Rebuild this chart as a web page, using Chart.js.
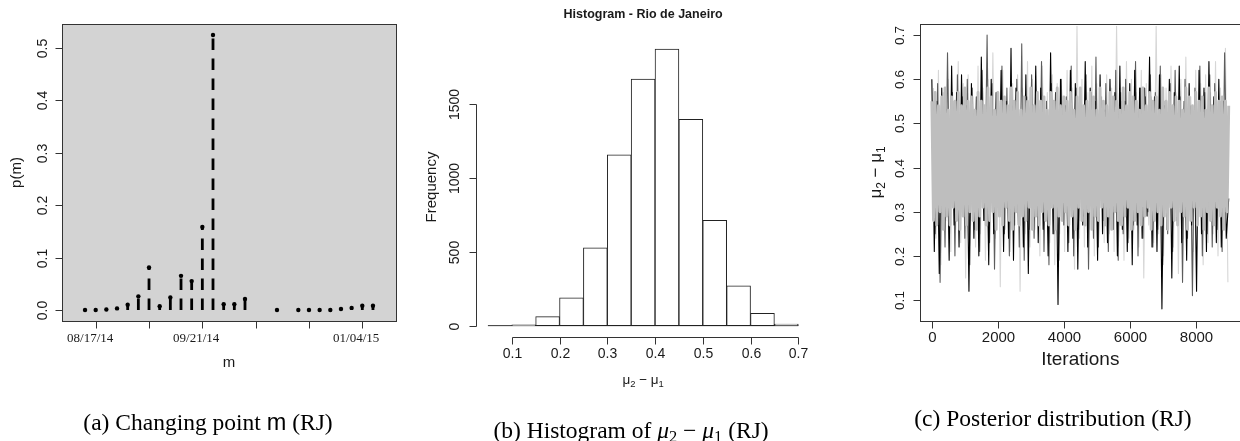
<!DOCTYPE html>
<html>
<head>
<meta charset="utf-8">
<script src="https://cdn.jsdelivr.net/npm/chart.js@4.4.1/dist/chart.umd.min.js"></script>
<style>
  html, body { margin: 0; padding: 0; overflow: hidden; background: #fff; }
  body { position: relative; width: 1240px; height: 441px; }
  canvas { position: absolute; left: 0; top: 0; }
  .cap {
    position: absolute;
    font-family: "Liberation Serif", "Times New Roman", serif;
    font-size: 23.5px;
    color: #000;
    white-space: nowrap;
    transform: translate(-50%, -50%);
  }
  .cap sub { font-size: 0.7em; vertical-align: -0.25em; line-height: 0; }
</style>
</head>
<body>
<canvas id="changeChart" width="1250" height="441"></canvas>
<canvas id="histChart" width="1250" height="441"></canvas>
<canvas id="traceChart" width="1250" height="441"></canvas>

<div class="cap" style="left:208px; top:422px;">(a) Changing point <span style="font-family:'Liberation Sans', Arial, sans-serif;">m</span> (RJ)</div>
<div class="cap" style="left:631px; top:430px;">(b) Histogram of <i>μ</i><sub>2</sub> − <i>μ</i><sub>1</sub> (RJ)</div>
<div class="cap" style="left:1053px; top:418px;">(c) Posterior distribution (RJ)</div>

<script>
// (a) posterior of the change point m
const weekIndex = [1, 2, 3, 4, 5, 6, 7, 8, 9, 10, 11, 12, 13, 14, 15, 16, 19, 21, 22, 23, 24, 25, 26, 27, 28];
const changeProb = [0, 0, 0.001, 0.003, 0.010, 0.026, 0.081, 0.007, 0.024, 0.065, 0.055, 0.158, 0.524, 0.011, 0.011, 0.021,
  0, 0, 0, 0, 0, 0.002, 0.004, 0.008, 0.008];
const weekTicks = [2, 7, 12, 17, 22, 27];
const weekTickLabels = ["08/17/14", "", "09/21/14", "", "", "01/04/15"];
const probTicks = [0, 0.1, 0.2, 0.3, 0.4, 0.5];

// (b) histogram of mu2 - mu1
const binEdges = [0.05, 0.10, 0.15, 0.20, 0.25, 0.30, 0.35, 0.40, 0.45, 0.50, 0.55, 0.60, 0.65, 0.70];
const binCounts = [0, 5, 61, 188, 528, 1158, 1670, 1874, 1398, 714, 270, 84, 11];
const diffTicks = [0.1, 0.2, 0.3, 0.4, 0.5, 0.6, 0.7];
const freqTicks = [0, 500, 1000, 1500];

// (c) trace of mu2 - mu1 (thinned)
const bandStep = 50;
const traceBand = [
  0.55, 0.28, 0.57, 0.27, 0.54, 0.30, 0.56, 0.26, 0.58, 0.29,
  0.53, 0.27, 0.56, 0.31, 0.55, 0.28, 0.57, 0.26, 0.54, 0.29,
  0.58, 0.27, 0.55, 0.30, 0.56, 0.28, 0.53, 0.26, 0.57, 0.29,
  0.55, 0.31, 0.54, 0.27, 0.58, 0.28, 0.56, 0.30, 0.53, 0.26,
  0.57, 0.29, 0.55, 0.27, 0.56, 0.31, 0.54, 0.28, 0.58, 0.26,
  0.55, 0.30, 0.57, 0.27, 0.53, 0.29, 0.56, 0.28, 0.55, 0.31,
  0.58, 0.26, 0.54, 0.29, 0.57, 0.27, 0.55, 0.30, 0.56, 0.28,
  0.53, 0.27, 0.57, 0.31, 0.55, 0.26, 0.58, 0.29, 0.54, 0.28,
  0.56, 0.30, 0.55, 0.27, 0.57, 0.29, 0.53, 0.26, 0.56, 0.31,
  0.58, 0.28, 0.54, 0.27, 0.55, 0.30, 0.57, 0.26, 0.56, 0.29,
  0.53, 0.28, 0.58, 0.31, 0.55, 0.27, 0.54, 0.29, 0.57, 0.26,
  0.56, 0.30, 0.55, 0.28, 0.53, 0.27, 0.58, 0.29, 0.54, 0.31,
  0.57, 0.26, 0.56, 0.28, 0.55, 0.30, 0.53, 0.27, 0.58, 0.29,
  0.54, 0.31, 0.57, 0.26, 0.55, 0.28, 0.56, 0.30, 0.53, 0.27,
  0.58, 0.29, 0.55, 0.26, 0.57, 0.31, 0.54, 0.28, 0.56, 0.27,
  0.55, 0.30, 0.53, 0.29, 0.58, 0.26, 0.56, 0.28, 0.54, 0.31,
  0.57, 0.27, 0.55, 0.29, 0.56, 0.26, 0.53, 0.30, 0.58, 0.28,
  0.54, 0.27, 0.57, 0.31, 0.55, 0.29, 0.56, 0.26, 0.55, 0.30,
  0.54
];
const chainStep = 75;
const traceBlack = [
  0.60, 0.21, 0.55, 0.16, 0.58, 0.26, 0.53, 0.19, 0.63, 0.27,
  0.57, 0.22, 0.61, 0.29, 0.54, 0.12, 0.59, 0.24, 0.56, 0.20,
  0.65, 0.28, 0.52, 0.18, 0.60, 0.25, 0.57, 0.31, 0.62, 0.21,
  0.55, 0.24, 0.67, 0.19, 0.58, 0.27, 0.53, 0.22, 0.61, 0.16,
  0.56, 0.29, 0.63, 0.23, 0.58, 0.26, 0.51, 0.20, 0.66, 0.25,
  0.57, 0.09, 0.60, 0.28, 0.54, 0.21, 0.62, 0.24, 0.59, 0.17,
  0.56, 0.27, 0.64, 0.22, 0.58, 0.30, 0.55, 0.19, 0.61, 0.25,
  0.53, 0.23, 0.60, 0.28, 0.57, 0.20, 0.63, 0.26, 0.55, 0.21,
  0.59, 0.18, 0.62, 0.27, 0.58, 0.24, 0.58, 0.29, 0.65, 0.22,
  0.56, 0.21, 0.61, 0.08, 0.54, 0.26, 0.60, 0.15, 0.57, 0.28,
  0.63, 0.23, 0.55, 0.19, 0.59, 0.27, 0.52, 0.12, 0.62, 0.25,
  0.58, 0.21, 0.64, 0.28, 0.56, 0.23, 0.60, 0.22, 0.55, 0.24,
  0.33
];
const traceDark = [
  0.55, 0.25, 0.59, 0.14, 0.54, 0.22, 0.66, 0.27, 0.57, 0.20,
  0.61, 0.29, 0.56, 0.24, 0.60, 0.18, 0.58, 0.26, 0.53, 0.21,
  0.62, 0.28, 0.70, 0.23, 0.59, 0.17, 0.55, 0.30, 0.63, 0.25,
  0.58, 0.20, 0.54, 0.27, 0.60, 0.22, 0.68, 0.19, 0.56, 0.26,
  0.61, 0.24, 0.57, 0.28, 0.64, 0.21, 0.55, 0.18, 0.59, 0.25,
  0.52, 0.19, 0.60, 0.27, 0.56, 0.23, 0.63, 0.20, 0.58, 0.26,
  0.54, 0.29, 0.61, 0.17, 0.57, 0.24, 0.65, 0.22, 0.56, 0.28,
  0.59, 0.21, 0.53, 0.26, 0.62, 0.19, 0.57, 0.25, 0.60, 0.23,
  0.55, 0.27, 0.64, 0.20, 0.58, 0.24, 0.56, 0.30, 0.61, 0.22,
  0.57, 0.26, 0.63, 0.18, 0.55, 0.25, 0.59, 0.21, 0.62, 0.28,
  0.56, 0.14, 0.60, 0.24, 0.54, 0.11, 0.58, 0.27, 0.63, 0.20,
  0.57, 0.25, 0.61, 0.22, 0.59, 0.26, 0.55, 0.21, 0.66, 0.35
];
const traceLight = [
  0.58, 0.24, 0.62, 0.18, 0.57, 0.28, 0.60, 0.21, 0.55, 0.26,
  0.64, 0.23, 0.59, 0.15, 0.61, 0.27, 0.56, 0.22, 0.63, 0.25,
  0.58, 0.19, 0.60, 0.28, 0.66, 0.24, 0.57, 0.13, 0.62, 0.26,
  0.55, 0.21, 0.59, 0.27, 0.61, 0.12, 0.58, 0.25, 0.64, 0.22,
  0.60, 0.26, 0.56, 0.20, 0.63, 0.28, 0.57, 0.23, 0.61, 0.18,
  0.59, 0.25, 0.55, 0.21, 0.62, 0.27, 0.58, 0.17, 0.72, 0.24,
  0.60, 0.22, 0.57, 0.26, 0.63, 0.20, 0.59, 0.28, 0.56, 0.23,
  0.61, 0.25, 0.58, 0.21, 0.72, 0.27, 0.55, 0.19, 0.64, 0.24,
  0.60, 0.26, 0.57, 0.22, 0.62, 0.15, 0.59, 0.27, 0.56, 0.23,
  0.72, 0.25, 0.61, 0.20, 0.58, 0.28, 0.63, 0.22, 0.57, 0.16,
  0.60, 0.24, 0.65, 0.26, 0.56, 0.21, 0.62, 0.27, 0.59, 0.18,
  0.61, 0.23, 0.57, 0.25, 0.64, 0.20, 0.58, 0.26, 0.67, 0.14
];
const iterTicks = [0, 2000, 4000, 6000, 8000];
const traceTicks = [0.1, 0.2, 0.3, 0.4, 0.5, 0.6, 0.7];

const INK = "#1a1a1a";
const SANS = '"Liberation Sans", Arial, sans-serif';
const SERIF = '"Liberation Serif", "Times New Roman", serif';

function drawLabel(ctx, text, x, y, font, rotated) {
  ctx.save();
  ctx.translate(x, y);
  if (rotated) ctx.rotate(-Math.PI / 2);
  ctx.font = font;
  ctx.fillStyle = INK;
  ctx.textAlign = "center";
  ctx.textBaseline = "middle";
  ctx.fillText(text, 0, 0);
  ctx.restore();
}

// "mu2 - mu1" with small subscripts
function drawMuDiff(ctx, x, y, size, rotated) {
  const parts = [["μ", 1, 0], ["2", 0.7, 0.25], [" − μ", 1, 0], ["1", 0.7, 0.25]];
  ctx.save();
  ctx.translate(x, y);
  if (rotated) ctx.rotate(-Math.PI / 2);
  ctx.fillStyle = INK;
  ctx.textBaseline = "alphabetic";
  let total = 0;
  parts.forEach(([t, s]) => {
    ctx.font = `${size * s}px ${SANS}`;
    total += ctx.measureText(t).width;
  });
  let cx = -total / 2;
  parts.forEach(([t, s, drop]) => {
    ctx.font = `${size * s}px ${SANS}`;
    ctx.fillText(t, cx, size * 0.36 + size * drop);
    cx += ctx.measureText(t).width;
  });
  ctx.restore();
}

function drawXTicks(chart, values, labels, font, dy, shift) {
  const { ctx, chartArea } = chart;
  const sx = chart.scales.x;
  const base = Math.round(chartArea.bottom) + 0.5;
  ctx.save();
  ctx.strokeStyle = "#333";
  ctx.lineWidth = 1;
  values.forEach((v, i) => {
    const px = Math.round(sx.getPixelForValue(v)) + 0.5;
    ctx.beginPath();
    ctx.moveTo(px, base);
    ctx.lineTo(px, base + 7);
    ctx.stroke();
    if (labels[i]) drawLabel(ctx, labels[i], px + shift, chartArea.bottom + dy, font, false);
  });
  ctx.restore();
}

function drawYTicks(chart, values, labels, font, dx) {
  const { ctx, chartArea } = chart;
  const sy = chart.scales.y;
  const base = Math.round(chartArea.left) + 0.5;
  ctx.save();
  ctx.strokeStyle = "#333";
  ctx.lineWidth = 1;
  values.forEach((v, i) => {
    const py = Math.round(sy.getPixelForValue(v)) + 0.5;
    ctx.beginPath();
    ctx.moveTo(base, py);
    ctx.lineTo(base - 7, py);
    ctx.stroke();
    drawLabel(ctx, labels[i], chartArea.left - dx, py, font, true);
  });
  ctx.restore();
}

function drawBox(chart) {
  const { ctx, chartArea } = chart;
  const l = Math.round(chartArea.left) + 0.5, t = Math.round(chartArea.top) + 0.5;
  const r = Math.round(chartArea.right) + 0.5, b = Math.round(chartArea.bottom) + 0.5;
  ctx.save();
  ctx.strokeStyle = "#333";
  ctx.lineWidth = 1;
  ctx.strokeRect(l, t, r - l, b - t);
  ctx.restore();
}

function baseOptions(padding, xRange, yRange) {
  return {
    responsive: false,
    animation: false,
    events: [],
    layout: { padding },
    plugins: { legend: { display: false }, tooltip: { enabled: false } },
    scales: {
      x: { type: "linear", display: false, min: xRange[0], max: xRange[1], offset: false },
      y: { type: "linear", display: false, min: yRange[0], max: yRange[1] },
    },
  };
}

// ---------- (a) ----------
const stemPoints = [];
weekIndex.forEach((w, i) => {
  stemPoints.push({ x: w, y: 0 }, { x: w, y: changeProb[i] }, { x: w, y: null });
});

new Chart(document.getElementById("changeChart"), {
  type: "line",
  data: {
    datasets: [
      {
        data: weekIndex.map((w, i) => ({ x: w, y: changeProb[i] })),
        showLine: false,
        pointRadius: 2.2,
        pointBorderWidth: 0,
        pointBackgroundColor: "#000",
      },
      {
        data: stemPoints,
        borderColor: "#000",
        borderWidth: 2.8,
        borderDash: [11.5, 8.5],
        borderCapStyle: "butt",
        pointRadius: 0,
        spanGaps: false,
      },
    ],
  },
  options: baseOptions({ left: 62, top: 24, right: 854, bottom: 120 }, [-1.16, 30.16], [-0.021, 0.545]),
  plugins: [{
    id: "changeDecor",
    beforeDatasetsDraw(chart) {
      const { ctx, chartArea } = chart;
      ctx.save();
      ctx.fillStyle = "#d3d3d3";
      ctx.fillRect(chartArea.left, chartArea.top, chartArea.right - chartArea.left, chartArea.bottom - chartArea.top);
      ctx.restore();
    },
    afterDraw(chart) {
      const { ctx, chartArea } = chart;
      drawBox(chart);
      drawXTicks(chart, weekTicks, weekTickLabels, `13px ${SERIF}`, 18, -6.3);
      drawYTicks(chart, probTicks, probTicks.map((v) => v.toFixed(1)), `14px ${SANS}`, 19);
      drawLabel(ctx, "p(m)", chartArea.left - 45, (chartArea.top + chartArea.bottom) / 2, `15px ${SANS}`, true);
      drawLabel(ctx, "m", (chartArea.left + chartArea.right) / 2, chartArea.bottom + 42, `15px ${SANS}`, false);
    },
  }],
});

// ---------- (b) ----------
new Chart(document.getElementById("histChart"), {
  type: "bar",
  data: {
    datasets: [
      {
        data: binCounts.map((c, i) => ({ x: (binEdges[i] + binEdges[i + 1]) / 2, y: c })),
        backgroundColor: "#fff",
        borderColor: "#222",
        borderWidth: 1,
        borderSkipped: false,
        barPercentage: 1,
        categoryPercentage: 1,
      },
      {
        type: "line",
        data: [{ x: binEdges[0], y: 0 }, { x: binEdges[binEdges.length - 1], y: 0 }],
        borderColor: "#333",
        borderWidth: 1,
        pointRadius: 0,
      },
    ],
  },
  options: baseOptions({ left: 475.5, top: 38, right: 439.3, bottom: 104.3 }, [0.024, 0.726], [-75, 1949]),
  plugins: [{
    id: "histDecor",
    afterDraw(chart) {
      const { ctx, chartArea } = chart;
      const sx = chart.scales.x, sy = chart.scales.y;
      ctx.save();
      ctx.strokeStyle = "#333";
      ctx.lineWidth = 1;
      const ax = Math.round(chartArea.left) + 0.5;
      const ay = Math.round(chartArea.bottom) + 0.5;
      ctx.beginPath();
      ctx.moveTo(ax, Math.round(sy.getPixelForValue(freqTicks[0])) + 0.5);
      ctx.lineTo(ax, Math.round(sy.getPixelForValue(freqTicks[freqTicks.length - 1])) + 0.5);
      ctx.moveTo(Math.round(sx.getPixelForValue(diffTicks[0])) + 0.5, ay);
      ctx.lineTo(Math.round(sx.getPixelForValue(diffTicks[diffTicks.length - 1])) + 0.5, ay);
      ctx.stroke();
      ctx.restore();
      drawXTicks(chart, diffTicks, diffTicks.map((v) => v.toFixed(1)), `14px ${SANS}`, 17.5, 0);
      drawYTicks(chart, freqTicks, freqTicks.map(String), `14px ${SANS}`, 20.5);
      drawLabel(ctx, "Frequency", chartArea.left - 44, 187, `15px ${SANS}`, true);
      drawMuDiff(ctx, (chartArea.left + chartArea.right) / 2, chartArea.bottom + 42, 13.5, false);
      drawLabel(ctx, "Histogram - Rio de Janeiro", (chartArea.left + chartArea.right) / 2, chartArea.top - 23, `bold 12.5px ${SANS}`, false);
    },
  }],
});

// ---------- (c) ----------
function chainLine(values, step, offset, color, width) {
  return {
    data: values.map((v, i) => ({ x: offset + i * step, y: v })),
    borderColor: color,
    borderWidth: width,
    borderJoinStyle: "round",
    pointRadius: 0,
  };
}

new Chart(document.getElementById("traceChart"), {
  type: "line",
  data: {
    datasets: [
      chainLine(traceBand, bandStep, 0, "#bebebe", 2.9),
      chainLine(traceBlack, chainStep, 0, "#000", 1.1),
      chainLine(traceDark, chainStep, 25, "#5c5c5c", 1.1),
      chainLine(traceLight, chainStep, 50, "#d6d6d6", 1.1),
    ],
  },
  options: baseOptions({ left: 920, top: 24, right: 9.4, bottom: 120 }, [-359, 9360], [0.0525, 0.725]),
  plugins: [{
    id: "traceDecor",
    afterDraw(chart) {
      const { ctx, chartArea } = chart;
      drawBox(chart);
      drawXTicks(chart, iterTicks, iterTicks.map(String), `15px ${SANS}`, 17, 0);
      drawYTicks(chart, traceTicks, traceTicks.map((v) => v.toFixed(1)), `13.5px ${SANS}`, 20);
      drawMuDiff(ctx, chartArea.left - 45, (chartArea.top + chartArea.bottom) / 2, 17, true);
      drawLabel(ctx, "Iterations", (chartArea.left + chartArea.right) / 2, chartArea.bottom + 39, `19px ${SANS}`, false);
    },
  }],
});
</script>
</body>
</html>
